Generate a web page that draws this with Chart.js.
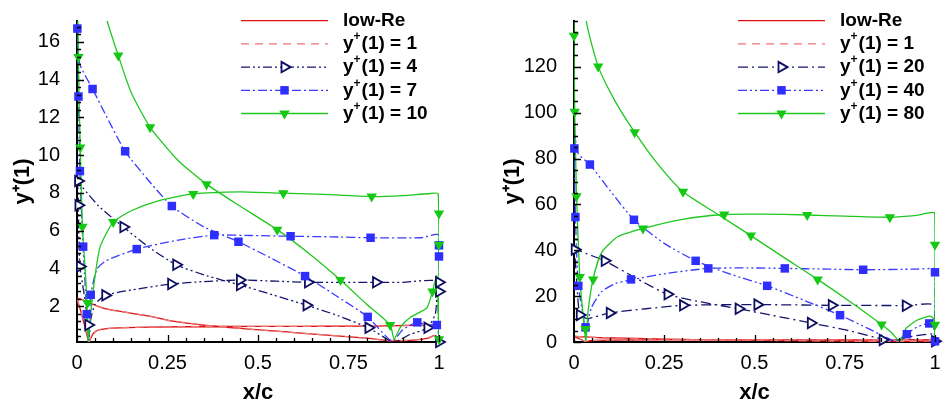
<!DOCTYPE html>
<html>
<head>
<meta charset="utf-8">
<script src="https://cdn.jsdelivr.net/npm/chart.js@4.4.1/dist/chart.umd.min.js"></script>
<style>
  body { margin: 0; background: #fff; }
  #wrap { position: relative; width: 943px; height: 403px; }
  .box { position: absolute; top: 0; height: 403px; }
</style>
</head>
<body>
<div id="wrap">
  <div class="box" style="left:0;width:470px"><canvas id="left" width="470" height="403"></canvas></div>
  <div class="box" style="left:470px;width:473px"><canvas id="right" width="473" height="403"></canvas></div>
</div>
<script>
// tick values
const xTicks = [0, 0.25, 0.5, 0.75, 1];
const leftYTicks = [2, 4, 6, 8, 10, 12, 14, 16];
const rightYTicks = [0, 20, 40, 60, 80, 100, 120];

const leftLabels = ['low-Re', 'y+(1) = 1', 'y+(1) = 4', 'y+(1) = 7', 'y+(1) = 10'];
const rightLabels = ['low-Re', 'y+(1) = 1', 'y+(1) = 20', 'y+(1) = 40', 'y+(1) = 80'];

// curves as [x/c, y+], walked TE lower -> stagnation -> LE -> upper -> TE
const lowRe = [
  [1.0, 0.3], [1.0, 0.94], [0.8, 0.94], [0.6, 0.93], [0.4, 0.92], [0.2, 0.89], [0.1, 0.84],
  [0.06, 0.74], [0.045, 0.55], [0.038, 0.3], [0.033, 0.08],
  [0.022, 0.9], [0.011, 1.7], [0.0, 2.42],
  [0.03, 2.2], [0.08, 1.85], [0.2, 1.47], [0.26, 1.22], [0.4, 0.9], [0.6, 0.6], [0.8, 0.3],
  [0.86, 0.18], [0.93, 0.2], [0.97, 0.3], [0.988, 0.45], [1.0, 0.3]
];
const yPlus1 = [
  [1.0, 0.3], [1.0, 0.94], [0.8, 0.94], [0.6, 0.93], [0.4, 0.92], [0.2, 0.89], [0.1, 0.84],
  [0.06, 0.74], [0.045, 0.55], [0.038, 0.3], [0.033, 0.08],
  [0.022, 0.9], [0.011, 1.7], [0.0, 2.42],
  [0.03, 2.2], [0.08, 1.85], [0.2, 1.47], [0.26, 1.22], [0.4, 0.9], [0.6, 0.6], [0.8, 0.3],
  [0.86, 0.18], [0.93, 0.2], [0.97, 0.3], [0.988, 0.45], [1.0, 0.3]
];

// left panel
const yPlus4 = [
  [1.0, 0.1], [1.0, 3.26], [0.9, 3.26], [0.826, 3.26], [0.638, 3.26], [0.55, 3.32], [0.45, 3.38],
  [0.35, 3.3], [0.26, 3.17], [0.15, 2.85], [0.078, 2.57], [0.05, 2.1], [0.038, 1.3], [0.034, 0.4],
  [0.031, 1.0], [0.02, 2.6], [0.008, 4.1], [0.005, 5.8], [0.004, 7.34], [0.003, 8.63],
  [0.015, 8.3], [0.06, 7.3], [0.128, 6.19], [0.2, 5.1], [0.274, 4.19], [0.36, 3.6], [0.45, 3.12],
  [0.54, 2.6], [0.634, 2.05], [0.72, 1.5], [0.805, 0.85], [0.875, 0.1], [0.92, 0.5], [0.968, 0.85],
  [0.99, 1.6], [0.996, 3.0], [1.0, 0.1]
];
const yPlus4Marks = [
  [0.003, 8.63], [0.004, 7.34], [0.008, 4.1], [0.031, 1.0], [0.128, 6.19], [0.274, 4.19],
  [0.45, 3.12], [0.634, 2.05], [0.805, 0.85], [0.968, 0.85], [1.0, 2.77], [1.0, 0.1],
  [0.078, 2.57], [0.26, 3.17], [0.45, 3.38], [0.638, 3.26], [0.826, 3.26], [1.0, 3.26]
];
const yPlus7 = [
  [1.0, 0.3], [0.999, 5.75], [0.95, 5.62], [0.811, 5.62], [0.7, 5.67], [0.59, 5.7], [0.48, 5.74],
  [0.379, 5.76], [0.28, 5.5], [0.165, 5.02], [0.08, 4.4], [0.055, 3.96], [0.038, 2.6], [0.035, 1.5],
  [0.033, 0.2], [0.03, 0.9], [0.027, 1.57], [0.022, 3.3], [0.017, 5.15], [0.012, 7.2], [0.008, 9.15],
  [0.004, 13.1], [0.001, 16.7], [0.003, 16.0], [0.008, 14.8], [0.043, 13.5], [0.08, 12.1],
  [0.133, 10.2], [0.2, 8.6], [0.262, 7.3], [0.35, 6.2], [0.446, 5.41], [0.54, 4.5], [0.63, 3.59],
  [0.72, 2.5], [0.803, 1.43], [0.87, 0.15], [0.9, 0.75], [0.938, 1.14], [0.97, 1.0], [0.994, 0.99],
  [1.0, 0.3]
];
const yPlus7Marks = [
  [0.001, 16.7], [0.004, 13.1], [0.008, 9.15], [0.017, 5.15], [0.027, 1.57], [0.038, 2.6],
  [0.043, 13.5], [0.133, 10.2], [0.262, 7.3], [0.446, 5.41], [0.63, 3.59], [0.803, 1.43],
  [0.94, 1.14], [0.994, 1.0], [0.165, 5.02], [0.379, 5.76], [0.59, 5.7], [0.811, 5.62],
  [1.0, 5.22], [1.0, 4.63]
];
const yPlus10 = [
  [1.0, 0.25], [1.0, 4.0], [0.998, 7.95], [0.97, 7.95], [0.9, 7.85], [0.814, 7.8], [0.7, 7.9],
  [0.57, 7.98], [0.45, 8.05], [0.321, 7.94], [0.22, 7.55], [0.15, 7.05], [0.1, 6.45], [0.064, 5.15],
  [0.05, 3.6], [0.04, 2.0], [0.034, 0.8], [0.031, 0.15],
  [0.029, 1.2], [0.025, 3.2], [0.015, 6.2], [0.009, 10.4], [0.006, 12.8], [0.004, 15.2],
  [0.002, 18.5], [0.015, 23], [0.05, 20], [0.082, 17.2], [0.114, 15.27], [0.15, 13.3],
  [0.202, 11.47], [0.28, 9.7], [0.358, 8.46], [0.45, 7.3], [0.553, 6.05], [0.64, 4.8],
  [0.728, 3.38], [0.8, 2.1], [0.865, 1.0], [0.876, 0.25], [0.893, 0.88], [0.92, 1.4],
  [0.966, 1.9], [0.982, 2.78], [0.994, 3.6], [1.0, 0.25]
];
const yPlus10Marks = [
  [0.029, 2.17], [0.015, 6.2], [0.009, 10.4], [0.004, 15.2], [0.114, 15.27], [0.202, 11.47],
  [0.358, 8.46], [0.553, 6.05], [0.728, 3.38], [0.865, 1.0], [0.982, 2.78], [1.0, 0.25],
  [0.1, 6.45], [0.321, 7.94], [0.57, 7.98], [0.814, 7.8], [1.0, 6.9], [1.0, 5.25]
];

// right panel
const yPlus20 = [
  [1.0, 0.3], [1.0, 16], [0.919, 15.9], [0.714, 16], [0.508, 16.3], [0.302, 16], [0.2, 14.5],
  [0.099, 12.7], [0.06, 11], [0.035, 10.3],
  [0.016, 12], [0.008, 25], [0.002, 40.3], [0.004, 41.5], [0.02, 39.5], [0.085, 35.4], [0.17, 28],
  [0.259, 20.8], [0.35, 17.5], [0.456, 14.5], [0.55, 11.6], [0.656, 8.3], [0.76, 5], [0.855, 1.2],
  [0.89, 0.5], [0.92, 2], [0.96, 3], [0.99, 3.5], [0.997, 2.5], [1.0, 0.3]
];
const yPlus20Marks = [
  [0.002, 40.3], [0.016, 11.8], [0.085, 35.4], [0.259, 20.8], [0.456, 14.5], [0.656, 8.3],
  [0.855, 0.9], [1.0, 0.3], [0.099, 12.7], [0.302, 16], [0.508, 16.3], [0.714, 16], [0.919, 15.8]
];
const yPlus40 = [
  [1.0, 0.3], [1.0, 30.4], [0.999, 32], [0.95, 31.8], [0.801, 31.5], [0.7, 31.8], [0.584, 32.1],
  [0.48, 32.3], [0.372, 32.1], [0.26, 30], [0.158, 27.1], [0.115, 25.5], [0.076, 21.9],
  [0.048, 14.9], [0.036, 7], [0.032, 4.5],
  [0.025, 12], [0.012, 24.5], [0.004, 54.5], [0.001, 84.4], [0.002, 90], [0.012, 82],
  [0.044, 77.4], [0.1, 66], [0.166, 53.3], [0.25, 43], [0.337, 35.4], [0.435, 29.5],
  [0.535, 24.5], [0.64, 18], [0.737, 11.7], [0.82, 5.5], [0.89, 0.5], [0.922, 3.6], [0.95, 6.5],
  [0.984, 8.1], [0.996, 6.5], [1.0, 0.3]
];
const yPlus40Marks = [
  [0.001, 84.4], [0.004, 54.5], [0.012, 24.5], [0.032, 6.4], [0.044, 77.4], [0.166, 53.3],
  [0.337, 35.4], [0.535, 24.5], [0.737, 11.7], [0.922, 3.4], [0.984, 8.1], [1.0, 0.3],
  [0.158, 27.3], [0.372, 32.1], [0.584, 32.1], [0.801, 31.5], [1.0, 30.4]
];
const yPlus80 = [
  [1.0, 0.5], [1.0, 42.4], [0.999, 56.3], [0.95, 55.2], [0.875, 54.4], [0.75, 54.9], [0.646, 55.4],
  [0.52, 55.8], [0.416, 55.6], [0.3, 53.5], [0.191, 49.5], [0.122, 46], [0.076, 38.9],
  [0.053, 27.6], [0.039, 13.4], [0.033, 0.5],
  [0.025, 12], [0.016, 28.3], [0.007, 63.6], [0.002, 100.4], [0.0, 133.6], [0.003, 165],
  [0.02, 170], [0.034, 140], [0.067, 120.2], [0.113, 105.3], [0.168, 91.5], [0.23, 78],
  [0.302, 65.5], [0.4, 55.5], [0.49, 46.4], [0.58, 37], [0.675, 27.3], [0.77, 17], [0.852, 7.6],
  [0.88, 4], [0.903, 0.3], [0.92, 6], [0.95, 9.5], [0.986, 11.3], [0.997, 10], [1.0, 0.5]
];
const yPlus80Marks = [
  [0.032, 5.7], [0.016, 28.3], [0.007, 63.6], [0.002, 100.4], [0.0, 133.6], [0.067, 120.2],
  [0.168, 91.5], [0.302, 65.5], [0.49, 46.4], [0.675, 27.3], [0.852, 7.6], [1.0, 7.5],
  [0.053, 27.3], [0.191, 49.5], [0.416, 55.6], [0.646, 55.4], [0.875, 54.4], [1.0, 42.4]
];

const FONT = '"Liberation Sans", Arial, Helvetica, sans-serif';
Chart.defaults.font.family = FONT;
Chart.defaults.color = '#000';

const RED = '#e01010', PINK = '#ea7676', NAVY = '#14146e', BLUE = '#3a3aff', GREEN = '#1ec81e';
const triRight = { pointStyle: 'triangle', rotation: 90, radius: 6, bg: '#fff', border: '#0c0c60', bw: 1.8 };
const square = { pointStyle: 'rect', rotation: 0, radius: 6, bg: '#2e2eff', border: '#2e2eff', bw: 0 };
const triDown = { pointStyle: 'triangle', rotation: 180, radius: 6, bg: '#14c814', border: '#14c814', bw: 0 };

const toXY = pts => pts.map(p => ({ x: p[0], y: p[1] }));

// inside tick marks, major + minor
const insideTicks = {
  id: 'insideTicks',
  afterDatasetsDraw(chart, args, opts) {
    const { ctx, chartArea: a, scales: { x, y } } = chart;
    ctx.save();
    ctx.strokeStyle = '#000';
    ctx.lineWidth = 1.3;
    ctx.beginPath();
    const run = (scale, step, majors, horiz) => {
      const i0 = Math.ceil(scale.min / step - 1e-6);
      for (let i = i0; i * step <= scale.max + 1e-6; i++) {
        const v = i * step;
        const major = majors.some(m => Math.abs(m - v) < 1e-6);
        const len = major ? 7 : 4;
        const p = Math.round(scale.getPixelForValue(v)) + 0.5;
        if (horiz) { ctx.moveTo(p, a.bottom); ctx.lineTo(p, a.bottom - len); }
        else { ctx.moveTo(a.left, p); ctx.lineTo(a.left + len, p); }
      }
    };
    run(x, opts.xStep, opts.xMajors, true);
    run(y, opts.yStep, opts.yMajors, false);
    ctx.stroke();
    ctx.restore();
  }
};

function drawLabel(ctx, text, x, y) {
  ctx.fillStyle = '#000';
  ctx.textBaseline = 'middle';
  ctx.textAlign = 'left';
  const big = 'bold 19px ' + FONT, small = 'bold 12px ' + FONT;
  ctx.font = big;
  if (text.startsWith('y+')) {
    ctx.fillText('y', x, y);
    let w = ctx.measureText('y').width;
    ctx.font = small;
    ctx.fillText('+', x + w, y - 7);
    w += ctx.measureText('+').width + 1;
    ctx.font = big;
    ctx.fillText(text.slice(2), x + w, y);
  } else {
    ctx.fillText(text, x, y);
  }
}

const insideLegend = {
  id: 'insideLegend',
  afterDraw(chart, args, opts) {
    const ctx = chart.ctx;
    opts.items.forEach((it, i) => {
      const y = opts.y0 + i * opts.dy;
      ctx.save();
      ctx.strokeStyle = it.color;
      ctx.lineWidth = 1.3;
      ctx.setLineDash(it.dash);
      ctx.beginPath();
      ctx.moveTo(opts.x0, y);
      ctx.lineTo(opts.x1, y);
      ctx.stroke();
      ctx.setLineDash([]);
      if (it.marker) {
        const m = it.marker;
        ctx.fillStyle = m.bg;
        ctx.strokeStyle = m.border;
        ctx.lineWidth = m.bw;
        Chart.helpers.drawPoint(ctx, { pointStyle: m.pointStyle, rotation: m.rotation, radius: m.radius, borderWidth: m.bw }, (opts.x0 + opts.x1) / 2, y);
      }
      ctx.restore();
      drawLabel(ctx, it.label, opts.tx, y);
    });
  }
};

function makeChart(id, p) {
  const datasets = [];
  p.series.forEach((s, i) => {
    datasets.push({
      data: toXY(s.line), showLine: true, borderColor: s.color, borderWidth: 1.3,
      borderDash: s.dash, pointRadius: 0, tension: 0.2, order: 10 - i
    });
    if (s.marks) {
      const m = s.marker;
      datasets.push({
        data: toXY(s.marks), showLine: false, pointStyle: m.pointStyle, pointRotation: m.rotation,
        pointRadius: m.radius, pointBackgroundColor: m.bg, pointBorderColor: m.border,
        pointBorderWidth: m.bw, clip: false, order: 5 - i
      });
    }
  });

  return new Chart(document.getElementById(id), {
    type: 'scatter',
    data: { datasets },
    plugins: [insideTicks, insideLegend],
    options: {
      responsive: false,
      animation: false,
      events: [],
      layout: { padding: { top: 12, right: p.padRight, left: 0, bottom: 0 } },
      scales: {
        x: {
          type: 'linear', min: 0, max: 1,
          afterBuildTicks: s => { s.ticks = xTicks.map(v => ({ value: v })); },
          afterFit: s => { s.height = 61; },
          grid: { display: false },
          border: { color: '#000', width: 2 },
          ticks: { font: { size: 20 }, color: '#000', padding: 1, maxRotation: 0, callback: v => String(v) },
          title: { display: true, text: 'x/c', font: { size: 22, weight: 'bold' }, color: '#000', padding: { top: 0, bottom: -3 } }
        },
        y: {
          type: 'linear', min: p.yMin, max: p.yMax,
          afterBuildTicks: s => { s.ticks = p.yTicks.map(v => ({ value: v })); },
          afterFit: s => { s.width = p.yWidth; },
          grid: { display: false },
          border: { color: '#000', width: 2 },
          ticks: { font: { size: 20 }, color: '#000', padding: 9 },
          title: { display: true, text: 'y\u207A(1)', font: { size: 22, weight: 'bold' }, color: '#000', padding: { top: p.titlePad, bottom: 0 } }
        }
      },
      plugins: {
        legend: { display: false },
        tooltip: { enabled: false },
        insideTicks: { xStep: 0.05, xMajors: xTicks, yStep: p.yStep, yMajors: p.yTicks },
        insideLegend: {
          x0: p.legX0, x1: p.legX1, tx: p.legTx, y0: 20.7, dy: 23.2,
          items: p.series.map(s => ({ label: s.label, color: s.color, dash: s.dash, marker: s.marks ? s.marker : null }))
        }
      }
    }
  });
}

makeChart('left', {
  yMin: 0.1, yMax: 17.1, yTicks: leftYTicks, yStep: 0.4, yWidth: 77, padRight: 31, titlePad: 10,
  legX0: 241, legX1: 328, legTx: 343,
  series: [
    { label: leftLabels[0], line: lowRe, color: RED, dash: [] },
    { label: leftLabels[1], line: yPlus1, color: PINK, dash: [8, 6] },
    { label: leftLabels[2], line: yPlus4, marks: yPlus4Marks, color: NAVY, dash: [9, 3, 2, 3, 2, 3], marker: triRight },
    { label: leftLabels[3], line: yPlus7, marks: yPlus7Marks, color: BLUE, dash: [9, 3, 2, 3], marker: square },
    { label: leftLabels[4], line: yPlus10, marks: yPlus10Marks, color: GREEN, dash: [], marker: triDown }
  ]
});

makeChart('right', {
  yMin: 0, yMax: 140, yTicks: rightYTicks, yStep: 5, yWidth: 104, padRight: 8, titlePad: 30,
  legX0: 268, legX1: 355, legTx: 370,
  series: [
    { label: rightLabels[0], line: lowRe, color: RED, dash: [] },
    { label: rightLabels[1], line: yPlus1, color: PINK, dash: [8, 6] },
    { label: rightLabels[2], line: yPlus20, marks: yPlus20Marks, color: NAVY, dash: [10, 4, 2, 4], marker: triRight },
    { label: rightLabels[3], line: yPlus40, marks: yPlus40Marks, color: BLUE, dash: [9, 3, 2, 3, 2, 3], marker: square },
    { label: rightLabels[4], line: yPlus80, marks: yPlus80Marks, color: GREEN, dash: [], marker: triDown }
  ]
});
</script>
</body>
</html>
